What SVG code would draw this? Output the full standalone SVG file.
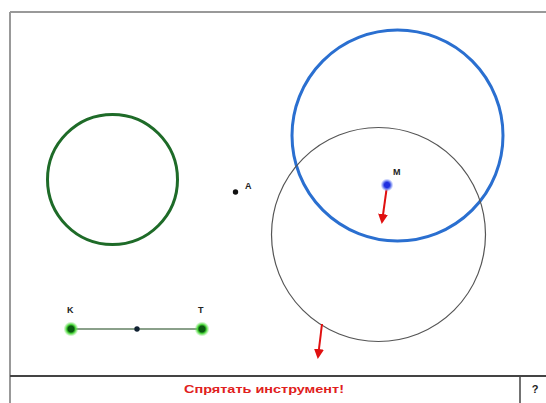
<svg xmlns="http://www.w3.org/2000/svg" width="546" height="403" viewBox="0 0 546 403">
<style>
.lbl{font-family:"Liberation Sans",Arial,sans-serif;font-weight:bold;font-size:9px;fill:#222}
.arrow{stroke:#e01010;stroke-width:2;fill:none}
.frame{stroke:#999;stroke-width:2;fill:none}
</style>
<defs>
<marker id="ah" viewBox="0 0 10 10" refX="8" refY="5" markerWidth="5" markerHeight="5" orient="auto">
<path d="M0,0 L10,5 L0,10 Z" fill="#e01010"/>
</marker>
<radialGradient id="gg"><stop offset="0.4" stop-color="#0a5a10"/><stop offset="0.6" stop-color="#4ad63a"/><stop offset="1" stop-color="#7ae86a" stop-opacity="0"/></radialGradient>
<radialGradient id="bg"><stop offset="0.4" stop-color="#2030e0"/><stop offset="0.65" stop-color="#7a8cf0"/><stop offset="1" stop-color="#a0b0ff" stop-opacity="0"/></radialGradient>
</defs>
<rect x="0" y="0" width="546" height="403" fill="#fff"/>
<g id="frame">
<line x1="10" y1="12" x2="546" y2="12" class="frame"/>
<line x1="10" y1="12" x2="10" y2="403" class="frame"/>
<line x1="10" y1="376" x2="546" y2="376" stroke="#444" stroke-width="2"/>
<line x1="520" y1="376" x2="520" y2="403" stroke="#444" stroke-width="1.5"/>
</g>
<g id="green-circle"><circle cx="112.5" cy="179.5" r="65" fill="none" stroke="#1e6b28" stroke-width="3"/></g>
<g id="blue-circle"><circle cx="397.5" cy="135.5" r="105.5" fill="none" stroke="#2a6fd0" stroke-width="3"/></g>
<g id="gray-circle"><circle cx="378.5" cy="234.5" r="107" fill="none" stroke="#555" stroke-width="1.2"/></g>
<g id="connectors">
<line x1="71" y1="329" x2="202" y2="329" stroke="#8aa08a" stroke-width="2"/>
<line x1="387" y1="186" x2="382" y2="222" class="arrow" marker-end="url(#ah)"/>
<line x1="322" y1="324" x2="318" y2="357" class="arrow" marker-end="url(#ah)"/>
</g>
<g id="point-A"><circle cx="235.5" cy="192" r="2.7" fill="#111"/><text x="245" y="189" class="lbl">A</text></g>
<g id="point-M"><circle cx="387" cy="185" r="6.5" fill="url(#bg)"/><text x="393" y="175" class="lbl">M</text></g>
<g id="point-K"><circle cx="71" cy="329" r="7.5" fill="url(#gg)"/><text x="67" y="313" class="lbl">K</text></g>
<g id="point-T"><circle cx="202" cy="329" r="7.5" fill="url(#gg)"/><text x="198" y="313" class="lbl">T</text></g>
<g id="point-mid"><circle cx="137" cy="329" r="2.7" fill="#123"/></g>
<g id="toolbar">
<text x="264" y="393" text-anchor="middle" font-family="Liberation Sans,Arial,sans-serif" font-weight="bold" font-size="11" fill="#e02020" textLength="160" lengthAdjust="spacingAndGlyphs">Спрятать инструмент!</text>
<text x="535" y="393" text-anchor="middle" font-family="Liberation Sans,Arial,sans-serif" font-weight="bold" font-size="11" fill="#222">?</text>
</g>
</svg>
